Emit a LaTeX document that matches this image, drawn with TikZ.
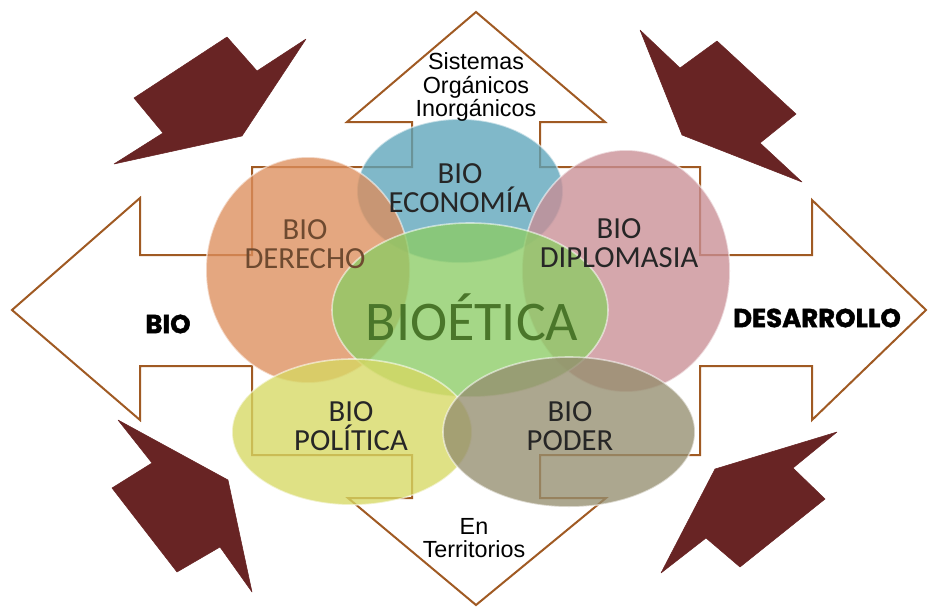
\documentclass[tikz,border=0pt]{standalone}
\usepackage{fontspec}
\setmainfont{Liberation Sans}
\newfontfamily\vennfont{Carlito}
\newfontfamily\heavyfont{Poppins}[BoldFeatures={FakeBold=1.6}]
\definecolor{cafe}{RGB}{160,90,35}
\definecolor{granate}{RGB}{104,36,36}
\definecolor{azul}{RGB}{92,164,186}
\definecolor{naranja}{RGB}{221,142,92}
\definecolor{rosa}{RGB}{201,142,149}
\definecolor{verde}{RGB}{140,204,101}
\definecolor{amarillo}{RGB}{214,216,99}
\definecolor{gris}{RGB}{149,142,111}
\tikzset{
  contorno/.style={draw=cafe, line width=1.5pt, line join=miter},
  flecha/.style={fill=granate, draw=granate, line join=round},
  venn/.style={fill opacity=.78, draw=white, draw opacity=.55, line width=1.2pt},
  vtxt/.style={font=\vennfont\fontsize{23}{22}\selectfont, align=center, text=black!85},
  rotulo/.style={font=\fontsize{17.5}{17.6}\selectfont, align=center},
  grueso/.style={font=\heavyfont\bfseries\fontsize{19.5}{22}\selectfont}
}
\begin{document}
\begin{tikzpicture}[x=.75pt,y=-.75pt]
\useasboundingbox (0,0) rectangle (928,607);
% cruz de cuatro flechas
\draw[contorno] (476,12) -- (605,122) -- (540,122) -- (540,167) -- (700,167) -- (700,255)
  -- (812,255) -- (812,200) -- (926,310) -- (812,420) -- (812,366) -- (700,366)
  -- (700,455) -- (540,455) -- (540,498) -- (606,498) -- (476,605) -- (348,498)
  -- (412,498) -- (412,455) -- (252,455) -- (252,366) -- (140,366) -- (140,420)
  -- (12,310) -- (140,198) -- (140,255) -- (252,255) -- (252,167) -- (412,167)
  -- (412,122) -- (347,122) -- cycle;
% flechas de las esquinas
\draw[flecha] (227,37) -- (257,71) -- (306,39) -- (242,136) -- (114,164) -- (163,133) -- (134,98) -- cycle;
\draw[flecha] (640,30) -- (680,68) -- (717,41) -- (796,114) -- (760,143) -- (802,182) -- (682,135) -- cycle;
\draw[flecha] (118,420) -- (228,480) -- (252,592) -- (220,547) -- (177,572) -- (112,488) -- (152,463) -- cycle;
\draw[flecha] (837,432) -- (793,468) -- (825,499) -- (740,567) -- (706,538) -- (661,573) -- (715,469) -- cycle;
% circulos
\draw[venn, fill=azul] (460,191) ellipse [x radius=103, y radius=72];
\draw[venn, fill=naranja] (308,270) ellipse [x radius=102, y radius=113];
\draw[venn, fill=rosa] (626,271) ellipse [x radius=104, y radius=121];
\draw[venn, fill=verde] (470,310) ellipse [x radius=138, y radius=87];
\draw[venn, fill=amarillo] (352,432) ellipse [x radius=120, y radius=73];
\draw[venn, fill=gris] (569,432) ellipse [x radius=126, y radius=75];
% textos
\node[vtxt] (economia) at (460,188) {BIO\\ECONOMÍA};
\node[vtxt, text={rgb,255:red,110;green,74;blue,48}] (derecho) at (305,244) {BIO\\DERECHO};
\node[vtxt] (diplomacia) at (619,243) {BIO\\DIPLOMASIA};
\node[vtxt, font=\vennfont\fontsize{42}{44}\selectfont, text={rgb,255:red,74;green,118;blue,42}] (bioetica) at (472,317) {BIOÉTICA};
\node[vtxt] (politica) at (351,426) {BIO\\POLÍTICA};
\node[vtxt] (poder) at (570,426) {BIO\\PODER};
\node[rotulo] (sistemas) at (476,87) {Sistemas\\Orgánicos\\Inorgánicos};
\node[rotulo] (territorios) at (474,538) {En\\Territorios};
\node[grueso] (bio) at (168,324) {BIO};
\node[grueso] (desarrollo) at (817,318) {DESARROLLO};
\end{tikzpicture}
\end{document}
